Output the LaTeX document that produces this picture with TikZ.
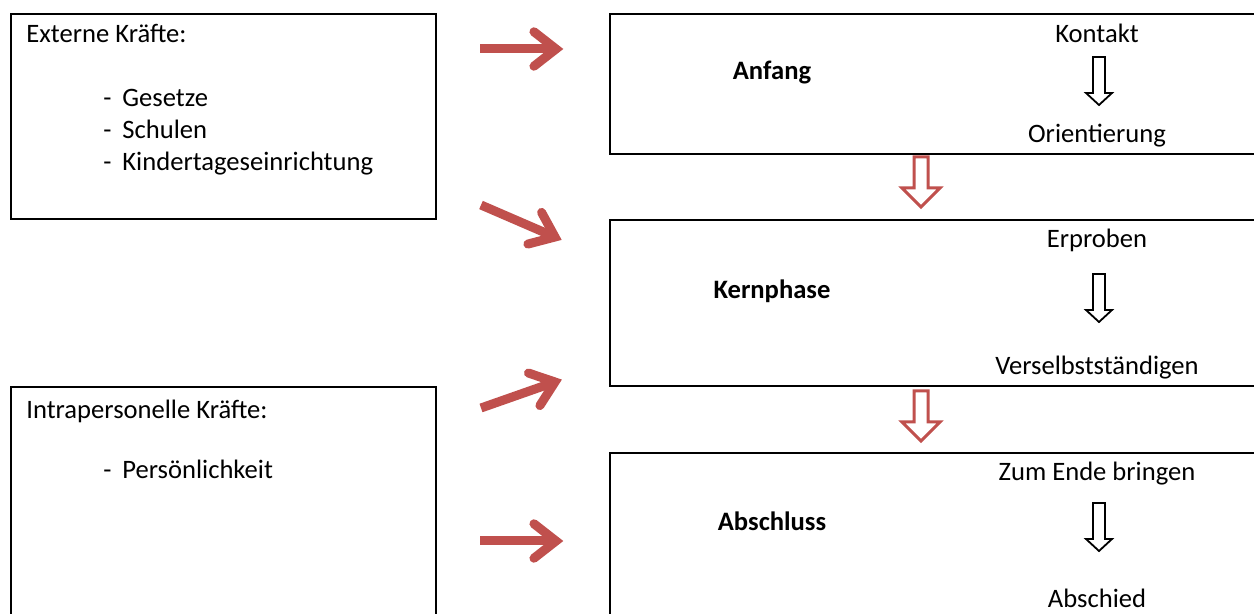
\documentclass[tikz,border=0pt]{standalone}
\usepackage{fontspec}
\setmainfont{Carlito}
\usetikzlibrary{calc}
\definecolor{redarr}{RGB}{192,80,77}
\tikzset{
  box/.style={draw=black,line width=1pt},
  txt/.style={inner sep=0pt,anchor=base,font=\fontsize{13.3}{16}\selectfont},
  ltxt/.style={txt,anchor=base west},
  btxt/.style={txt,font=\fontsize{13.3}{16}\selectfont\bfseries},
  redline/.style={draw=redarr,line width=4.5pt},
  redblock/.style={draw=redarr,line width=1.5pt,fill=white,line join=miter},
  blackblock/.style={draw=black,line width=0.9pt,fill=white,line join=miter}
}
\newcommand\blockdown[7]{% x, ytop, ybot, shaft hw, head hw, head length, style
  \draw[#7] ({#1-#4},#2) -- ({#1+#4},#2) -- ({#1+#4},{#3-#6}) -- ({#1+#5},{#3-#6}) -- (#1,#3) -- ({#1-#5},{#3-#6}) -- ({#1-#4},{#3-#6}) -- cycle;}
\newcommand\redarrow[2]{% start, tip (named coordinates)
  \draw[redline,line cap=butt] (#1) -- (#2);
  \draw[redline,line cap=round,line join=miter] ($(#2)!14pt!38:(#1)$) -- (#2) -- ($(#2)!14pt!-38:(#1)$);}
\begin{document}
\begin{tikzpicture}[x=0.5pt,y=-0.5pt]
\clip (0,0) rectangle (1254,614);
\fill[white] (0,0) rectangle (1254,614);
% left boxes
\draw[box] (11,14) rectangle (436,219);
\draw[box] (11,387) rectangle (436,640);
\node[ltxt] (ext) at (26,43) {Externe Kräfte:};
\node[ltxt] (d1) at (103,107) {-};
\node[ltxt] (g1) at (122,107) {Gesetze};
\node[ltxt] (d2) at (103,139) {-};
\node[ltxt] (g2) at (122,139) {Schulen};
\node[ltxt] (d3) at (103,171) {-};
\node[ltxt] (g3) at (122,171) {Kindertageseinrichtung};
\node[ltxt] (intra) at (26,419) {Intrapersonelle Kräfte:};
\node[ltxt] (d4) at (103,479) {-};
\node[ltxt] (p1) at (122,479) {Persönlichkeit};
% right boxes
\draw[box] (610,14) rectangle (1270,154);
\draw[box] (610,220) rectangle (1270,386);
\draw[box] (610,453) rectangle (1270,640);
\node[btxt] (anf) at (772,80) {Anfang};
\node[btxt] (kern) at (772,299) {Kernphase};
\node[btxt] (absch) at (772,531) {Abschluss};
\node[txt] (kon) at (1097,43) {Kontakt};
\node[txt] (ori) at (1097,143) {Orientierung};
\node[txt] (erp) at (1097,248) {Erproben};
\node[txt] (ver) at (1097,375) {Verselbstständigen};
\node[txt] (zum) at (1097,481) {Zum Ende bringen};
\node[txt] (abs) at (1097,608) {Abschied};
% black hollow arrows
\blockdown{1099}{57}{105}{6}{13}{12}{blackblock}
\blockdown{1099}{274}{322}{6}{13}{12}{blackblock}
\blockdown{1099}{503}{551}{6}{13}{12}{blackblock}
% red hollow arrows between phases
\blockdown{921}{157}{207}{7}{19}{19}{redblock}
\blockdown{921}{391}{441}{7}{19}{19}{redblock}
% red arrows
\coordinate (a1s) at (480,49);  \coordinate (a1t) at (556,49);
\coordinate (a2s) at (481,205); \coordinate (a2t) at (555,237);
\coordinate (a3s) at (481,408); \coordinate (a3t) at (555,382);
\coordinate (a4s) at (480,541); \coordinate (a4t) at (556,541);
\redarrow{a1s}{a1t}
\redarrow{a2s}{a2t}
\redarrow{a3s}{a3t}
\redarrow{a4s}{a4t}
\end{tikzpicture}
\end{document}
